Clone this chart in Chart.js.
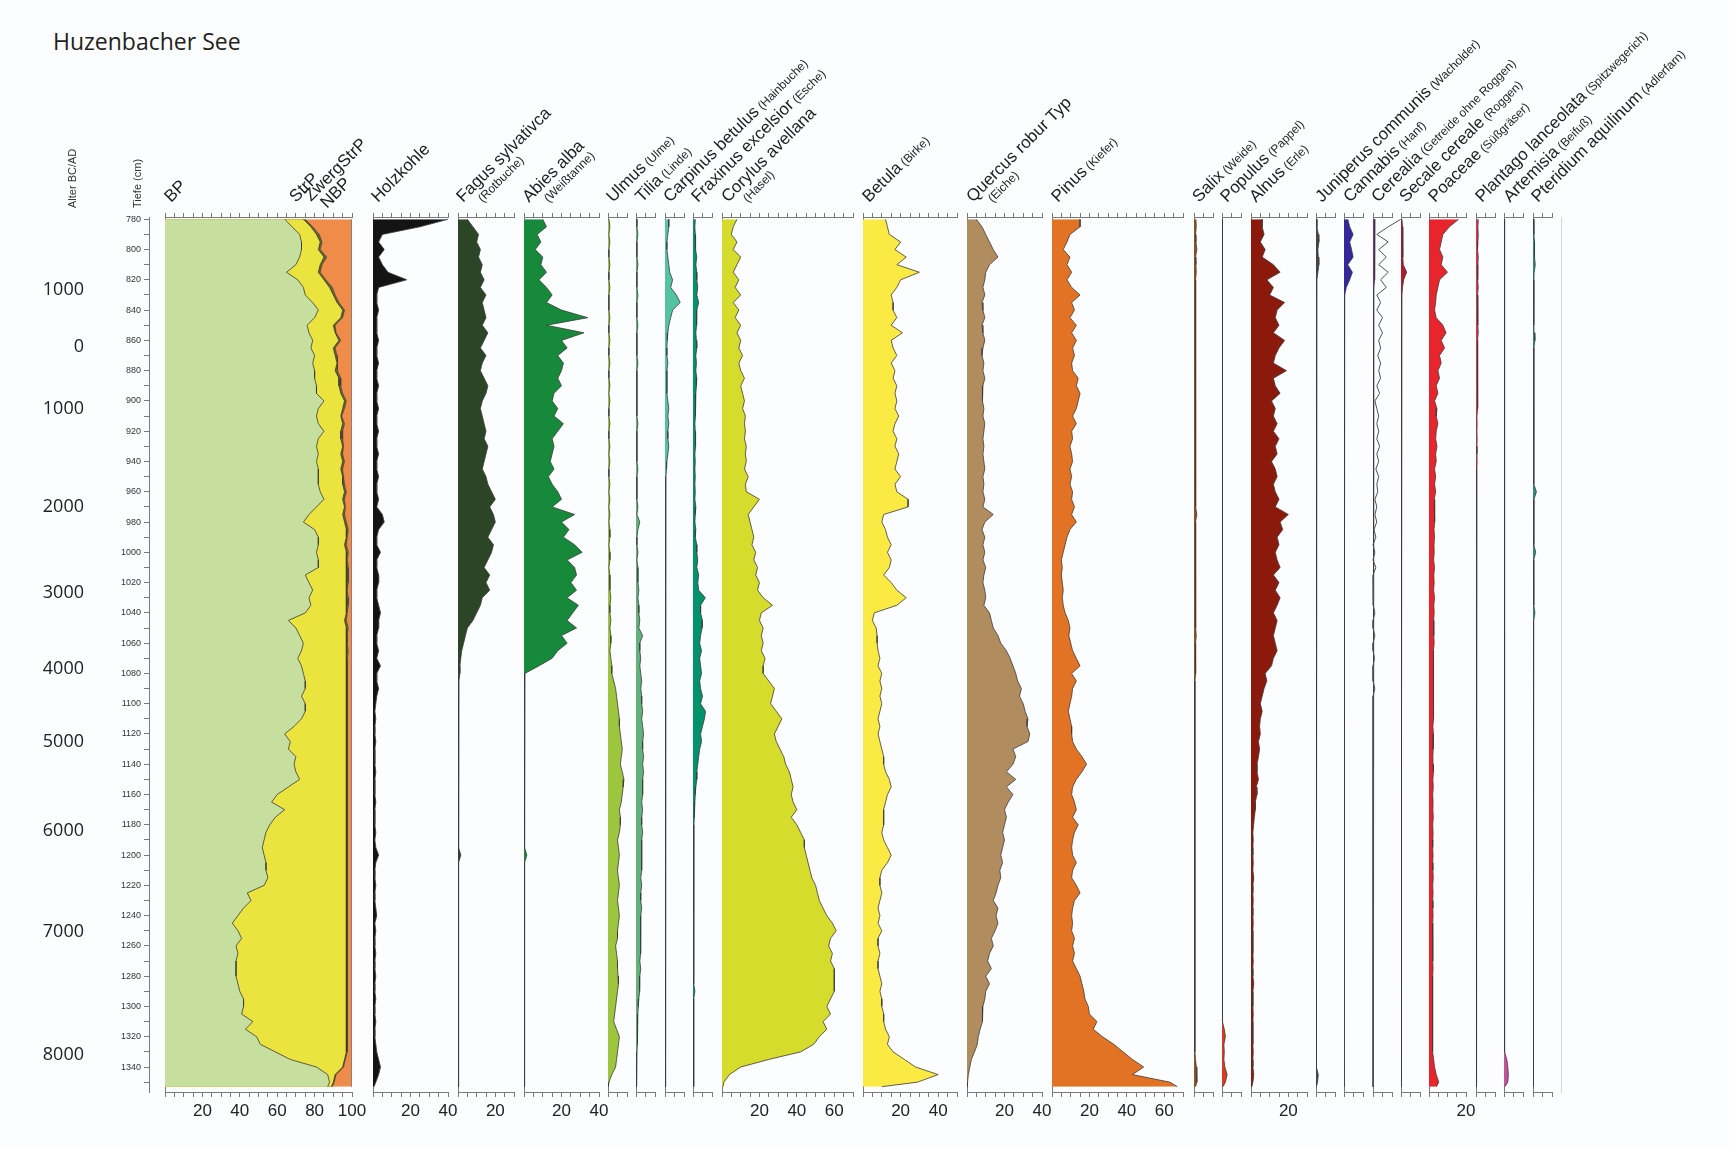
<!DOCTYPE html>
<html><head><meta charset="utf-8">
<script src="https://cdn.jsdelivr.net/npm/chart.js@4.4.1/dist/chart.umd.min.js"></script>
<style>
html,body{margin:0;padding:0;background:#fcfdfe;}
#wrap{position:relative;width:1729px;height:1149px;overflow:hidden;background:#fcfdfe;}
#wrap canvas{position:absolute;top:0;}
.title{position:absolute;left:53px;top:30px;font:23px 'Open Sans',sans-serif;line-height:23px;color:#231f20;white-space:nowrap;}
.hdr{position:absolute;width:0;height:0;transform:rotate(-45deg);transform-origin:0 0;}
.hdr .l1{position:absolute;left:0;bottom:0;white-space:nowrap;font:17px 'Liberation Sans',Arial,sans-serif;line-height:1;color:#1e1e1e;}
.hdr .sub{font-size:12px;}
.hdr .l2{position:absolute;white-space:nowrap;font:12px 'Liberation Sans',Arial,sans-serif;line-height:1;color:#1e1e1e;}
.vt{position:absolute;transform:rotate(-90deg);transform-origin:0 0;white-space:nowrap;font:11px 'Liberation Sans',Arial,sans-serif;line-height:13px;color:#333;}
</style></head>
<body><div id="wrap"><div class="title">Huzenbacher See</div></div>
<script>
// ---------------- DATA ----------------
const depth = [780,785,790,795,800,805,810,815,820,825,830,835,
840,845,850,855,860,865,870,875,880,885,890,895,
900,905,910,915,920,925,930,935,940,945,950,955,
960,965,970,975,980,985,990,995,1000,1005,1010,1015,
1020,1025,1030,1035,1040,1045,1050,1055,1060,1065,1070,1075,
1080,1085,1090,1095,1100,1105,1110,1115,1120,1125,1130,1135,
1140,1145,1150,1155,1160,1165,1170,1175,1180,1185,1190,1195,
1200,1205,1210,1215,1220,1225,1230,1235,1240,1245,1250,1255,
1260,1265,1270,1275,1280,1285,1290,1295,1300,1305,1310,1315,
1320,1325,1330,1335,1340,1345,1350,1353];

const ageLabels = ['1000','0','1000','2000','3000','4000','5000','6000','7000','8000'];
const ageDepth  = [826.7,864,905.5,970,1026.5,1076.7,1125,1184.3,1250.5,1332];

const depthTicks = [780,790,800,810,820,830,840,850,860,870,880,890,900,910,920,930,940,950,960,970,980,990,
1000,1010,1020,1030,1040,1050,1060,1070,1080,1090,1100,1110,1120,1130,1140,1150,1160,1170,1180,1190,1200,
1210,1220,1230,1240,1250,1260,1270,1280,1290,1300,1310,1320,1330,1340,1350];
const depthTickLabels = [780,800,820,840,860,880,900,920,940,960,980,1000,1020,1040,1060,1080,1100,1120,1140,
1160,1180,1200,1220,1240,1260,1280,1300,1320,1340];

const BP = [64,68,72,73,73,72,70,65,71,74,75,79,
82,80,76,77,79,78,80,79,80,80,81,81,
85,82,81,82,85,82,81,82,81,82,82,82,
83,85,81,77,74,80,82,82,81,82,82,75,
77,79,77,78,75,66,70,72,74,73,71,73,
74,75,75,73,75,75,73,69,64,67,66,70,
69,70,72,66,60,57,64,59,56,54,53,52,
53,54,54,55,53,44,46,42,39,36,39,41,
38,39,38,38,38,39,40,42,42,41,47,43,
49,51,59,67,81,87,88,87];
const StrP = [10,10,9,10,9,13,13,17,14,14,15,13,
13,14,14,14,14,12,11,13,11,13,12,13,
11,13,13,13,9,12,14,12,14,12,13,13,
13,10,15,18,22,17,15,14,16,15,15,22,
20,18,20,19,22,30,27,25,23,24,26,24,
23,22,22,24,22,22,24,28,33,30,31,27,
28,27,25,31,37,40,33,38,41,43,44,45,
44,43,43,42,44,53,51,55,58,61,58,56,
59,58,59,59,59,58,57,55,55,56,50,54,
48,46,38,29,14,4,2,2];
const ZwergStrP = [1,1,1.5,1,1,1.5,1,1,1,1.5,1,1,
1,1,1,0.5,1,1,1,0.5,1,1,1,1,
1,1,0.5,1,1,1,0.5,1,1,1,0.5,1,
1,1,0.5,1,1,1,0.5,1,1,0.5,1,1,
1,0.5,1,1,0.5,1,1,0.5,0.5,1,0.5,0.5,
0.5,0.5,0.5,0.5,0.5,0.5,0.5,0.5,0.5,0.5,0.5,0.5,
0.5,0.5,0.5,0.5,0.5,0.5,0.5,0.5,0.5,0.5,0.5,0.5,
0.5,0.5,0.5,0.5,0.5,0.5,0.5,0.5,0.5,0.5,0.5,0.5,
0.5,0.5,0.5,0.5,0.5,0.5,0.5,0.5,0.5,0.5,0.5,0.5,
0.5,0.5,0.5,0.5,0.5,0.5,0.5,0.5];
const NBP = [25,21,17.5,16,17,13.5,16,17,14,10.5,9,7,
4,5,9,8.5,6,9,8,7.5,8,6,6,5,
3,4,5.5,4,5,5,4.5,5,4,5,4.5,4,
3,4,3.5,4,3,2,2.5,3,2,2.5,2,2,
2,2.5,2,2,2.5,3,2,2.5,2.5,2,2.5,2.5,
2.5,2.5,2.5,2.5,2.5,2.5,2.5,2.5,2.5,2.5,2.5,2.5,
2.5,2.5,2.5,2.5,2.5,2.5,2.5,2.5,2.5,2.5,2.5,2.5,
2.5,2.5,2.5,2.5,2.5,2.5,2.5,2.5,2.5,2.5,2.5,2.5,
2.5,2.5,2.5,2.5,2.5,2.5,2.5,2.5,2.5,2.5,2.5,2.5,
2.5,2.5,2.5,3.5,4.5,8.5,9.5,10.5];
const Holzkohle = [40,25,5,3,6,3,5,8,18,3,2,2,
3,2,2,2,3,2,2,3,2,2,3,2,
2,3,2,2,3,2,2,3,2,2,3,2,
2,3,2,5,6,3,2,2,4,2,2,3,
3,2,2,3,4,3,3,2,2,3,2,4,
2,2,3,2,1.5,1,1.5,1,1,1.5,1,1,
1,1.5,1,1,1,1.5,1,1,1,1.5,1,1.5,
3,1.5,1,1,1.5,1,1,1.5,2,1,1.5,1,
1,1.5,1,1,1.5,1,1,1.5,1,1,1.5,1,
1,1.5,2,3,4,3,1.5,0.5];
const Fagus = [5,8,11,10,12,11,13,12,14,12,15,13,
14,15,13,16,14,12,15,13,12,14,16,15,
13,12,13,14,15,14,16,15,14,13,15,16,
18,20,17,19,20,18,16,19,18,16,14,17,
15,17,13,12,10,8,5,4,3,2,1.5,1,
1,0.5,0.5,0.5,0.3,0.3,0.3,0.3,0.3,0.3,0.3,0.3,
0.3,0.3,0.3,0.3,0.3,0.3,0.3,0.3,0.3,0.3,0.3,0.3,
1.5,0.3,0.3,0.3,0.3,0.3,0.3,0.3,0.3,0.3,0.3,0.3,
0.3,0.3,0.3,0.3,0.3,0.3,0.3,0.3,0.3,0.3,0.3,0.3,
0.3,0.3,0.3,0.3,0.3,0.3,0.3,0.2];
const Abies = [10,12,7,9,6,10,9,12,8,12,15,12,
20,34,12,32,20,23,18,21,20,18,20,16,
15,18,16,21,18,15,16,15,14,16,13,15,
18,20,15,27,20,24,21,27,31,23,27,28,
25,28,23,29,26,23,28,20,23,18,15,8,
0.5,0.3,0.3,0.3,0.3,0.3,0.3,0.3,0.3,0.3,0.3,0.3,
0.3,0.3,0.3,0.3,0.3,0.3,0.3,0.3,0.3,0.3,0.3,0.3,
1.5,0.3,0.3,0.3,0.3,0.3,0.3,0.3,0.3,0.3,0.3,0.3,
0.3,0.3,0.3,0.3,0.3,0.3,0.3,0.3,0.3,0.3,0.3,0.3,
0.3,0.3,0.3,0.3,0.3,0.3,0.3,0.2];
const Ulmus = [0.5,1,0.5,1,0.5,0.5,1,0.5,0.5,1,0.5,0.5,
0.5,1,0.5,0.5,1,0.5,0.5,1,0.5,0.5,1,0.5,
1,0.5,0.5,1,0.5,0.5,1,0.5,1,0.5,0.5,1,
0.5,1,0.5,1,0.5,1,1,0.5,1,1,0.5,1,
1,1,1.5,1,1,1.5,1,1.5,1.5,1,1.5,2,
2,3,4,4.5,5,5.5,6,6,6.5,7,7.5,7,
6.5,7.5,8.4,8,7.5,7,6,6.5,6.5,6,5,5.5,
6,5.5,5,5.5,6,5.5,5,5.5,6,5.5,5,5,
4,4.5,5,5,5.3,5.5,5,4.5,4,3.5,3,4.5,
6,5.5,5,4.5,4,2,0.5,0.2];
const Tilia = [0.5,0.5,1,0.5,0.5,0.5,1,0.5,0.5,0.5,1,0.5,
0.5,0.5,1,0.5,0.5,0.5,0.5,1,0.5,0.5,0.5,0.5,
0.5,0.5,0.5,1,0.5,0.5,0.5,0.5,0.5,1,0.5,0.5,
0.5,0.5,1,0.5,2,1,0.5,0.5,1,0.5,1,1,
1,1.5,1,1.5,1.5,2,1.5,3.5,2,2,2.5,2,
2.5,3,2.5,3,3,3.5,3,3.5,4,3.5,3.5,4,
3.5,4,3.5,3.5,3.5,3,3.5,3,3,3.5,3,3,
3,3,3,2.5,3,2.5,2.5,3,2.5,2.5,2.5,2.5,
2.5,2.2,2,2.5,2,1.8,2,1.5,1.2,1,1,0.8,
0.7,0.6,0.5,0.5,0.3,0.3,0.2,0.2];
const Carpinus = [2,2,1.5,1,1,1.5,2,2.5,4,3,6,8,
4,3,2,1.5,1.2,1,1,1.5,1,1,1,1,
1.5,2,1.5,2,1.5,1.5,2,1.5,1,0.8,0.5,0.5,
0.5,0.3,0.3,0.3,0.3,0.3,0.3,0.3,0.3,0.3,0.3,0.3,
0.3,0.3,0.3,0.3,0.3,0.3,0.3,0.3,0.3,0.3,0.3,0.3,
0.3,0.3,0.3,0.3,0.3,0.3,0.3,0.3,0.3,0.3,0.3,0.3,
0.3,0.3,0.3,0.3,0.3,0.3,0.3,0.3,0.3,0.3,0.3,0.3,
0.3,0.3,0.3,0.3,0.3,0.3,0.3,0.3,0.3,0.3,0.3,0.3,
0.3,0.3,0.3,0.3,0.3,0.3,0.3,0.3,0.3,0.3,0.3,0.3,
0.3,0.3,0.3,0.3,0.3,0.3,0.3,0.2];
const Fraxinus = [1.2,1,1.2,1.5,1.2,2,1.5,2,2,2.5,2,3,
2,1.8,2,1.5,1.8,2,1.5,1.8,1.5,2,1.8,1.5,
1.2,1.5,1.2,1,1.2,1.5,1.2,1,1.2,1,1.2,1,
1.2,1,1.5,1.2,1,1.5,1.2,2,2,2.5,2,3,
2.5,3,6.5,4,4,5,4.8,4,3.5,4.5,3.5,4,
4.5,3.5,4,5,4,6.6,6,5,4,4.5,3.5,3,
2.5,2,2,1.5,1.2,1,0.8,0.6,0.5,0.4,0.4,0.4,
0.4,0.4,0.4,0.4,0.4,0.4,0.4,0.4,0.4,0.4,0.4,0.4,
0.4,0.4,0.4,0.4,0.4,0.4,1,0.4,0.4,0.4,0.4,0.4,
0.4,0.4,0.4,0.4,0.4,0.4,0.4,0.2];
const Corylus = [8,6,5,8,6,10,8,6,9,7,10,6,
9,7,10,8,10,9,11,9,10,12,10,11,
12,11,12.5,12,12.5,12,13,12.5,13,12,14,12.5,
13,20,17,14,15,16,17,16,18,17,19,18,
20,19,22,27,21,20,22,21,22,21,23,22,
22,25,28,27,26,29,32,30,28,29,31,33,
34,36,37,38,37,38,40,37,40,42,44,44,
45,46,47,48,50,51,52,54,56,59,61,58,
57,59,58,60,60,60,60,58,56,58,54,56,
52,49,42,25,10,4,1,0.5];
const Betula = [12,13,14,20,17,23,18,30,20,18,15,16,
16,18,15,21,15,16,18,15,17,16,18,17,
18,17,19,17,16,18,17,19,18,17,20,17,
18,24,24,11,10,12,13,15,13,15,14,11,
15,18,23,18,6,5,7,7.5,7.5,8,9,8,
10,9,10,9,10,9,8,9,8,9,10,11,
11,12,14,15,13,12,11,11,11,10,11,13,
15,13,10,9,9,10,9,8,9,8,10,8,
8,9,8,8,9,10,9,10,10,11,11,12,
14,13,16,22,28,40,29,10];
const Quercus = [5,8,10,12,14,16.5,12,10,9.5,8.5,9.5,8,
8.5,9.5,8,8.5,9.5,8.5,8,9,8.5,9.5,8.5,8,
8.5,9,8.5,9.5,9,8.5,9,8.5,9,9.5,8.5,9,
8.5,9.5,8.5,14,9.5,8,9.5,8.5,9.5,8.5,10,9,
8.5,9.5,10,9,12,13,14,16.5,18,21,23,24.5,
26,27,29,28,30,31,32.5,32,33.5,32.5,24.5,26,
24.5,21,26,21,24.5,22,20,21,20,19,20,19,
18,19,17.5,18,16.5,15.5,14,16.5,15.5,16.5,15,13,
14,12,11,13,10,12,10,9.5,8.5,8.5,8,7,
6,5.5,4,2.3,1.5,0.7,0.3,0.2];
const Pinus = [15,15,9.6,8,6,9.6,8,10.5,8,10.5,15,10.5,
12,9.6,13,10.5,13,11,12,10.5,11,14,13,15,
14,13,11,13,10.5,11,9.6,10.5,11,9.6,10.5,9.6,
11,10.5,12,10.5,13,9.6,8,7,6,5,5.5,5,
5.5,6,5.5,6,7,8.7,9.6,9,10,11,13,15,
10.5,13,11,10.5,9.6,8.7,9.6,10.5,10.5,11,13,16,
18.5,16,13,11,10.5,12,13,11,14,12,11,10.5,
11,13,11,10.5,13,15,12,11,10.5,11,10.5,12,
11,12,11,13,15,16,17,17.6,19.4,20,24,22,
27,33,38,43,49,43,63,67];
const Salix = [1,1.2,0.8,1,1.5,0.8,1,1.2,0.8,1,0.8,1,
0.8,1,0.8,1,0.8,0.8,1,0.8,0.8,1,0.8,0.8,
0.8,1,0.8,0.8,1,0.8,0.8,0.8,1,0.8,0.8,0.8,
0.8,1,0.8,1.5,0.8,1,0.8,0.8,1,0.8,0.8,1,
0.8,0.8,1,0.8,0.8,1,0.8,1.2,0.8,0.8,1,0.8,
0.8,0.5,0.5,0.5,0.5,0.5,0.5,0.5,0.5,0.5,0.5,0.5,
0.5,0.5,0.5,0.5,0.5,0.5,0.5,0.5,0.5,0.5,0.5,0.5,
0.5,0.5,0.5,0.5,0.5,0.5,0.5,0.5,0.5,0.5,0.5,0.5,
0.5,0.5,0.5,0.5,0.5,0.5,0.5,0.5,0.5,0.5,0.5,0.5,
0.5,0.5,0.5,0.8,1.2,1.5,1.5,0.8];
const Populus = [0.2,0.2,0.2,0.2,0.2,0.2,0.2,0.2,0.2,0.2,0.2,0.2,
0.2,0.2,0.2,0.2,0.2,0.2,0.2,0.2,0.2,0.2,0.2,0.2,
0.2,0.2,0.2,0.2,0.2,0.2,0.2,0.2,0.2,0.2,0.2,0.2,
0.2,0.2,0.2,0.2,0.2,0.2,0.2,0.2,0.2,0.2,0.2,0.2,
0.2,0.2,0.2,0.2,0.2,0.2,0.2,0.2,0.2,0.2,0.2,0.2,
0.2,0.2,0.2,0.2,0.2,0.2,0.2,0.2,0.2,0.2,0.2,0.2,
0.2,0.2,0.2,0.2,0.2,0.2,0.2,0.2,0.2,0.2,0.2,0.2,
0.2,0.2,0.2,0.2,0.2,0.2,0.2,0.2,0.2,0.2,0.2,0.2,
0.2,0.2,0.2,0.2,0.2,0.2,0.2,0.2,0.2,0.2,0.2,1.2,
1.8,1,1.2,1,1.5,2.7,1.8,0.5];
const Alnus = [6,6,7,5,7.6,6,12,15.6,8.5,12,10,18,
14,13,15,12,18,15,13,12,19,12,13,15.6,
11,13,12,14,12,15,13,14,11,13,14,12,
13,15,13,20,15.6,17,14,15,13,14,15.6,12,
15,13,15.6,14,12,14,13,12,13,14,12,11,
7.6,8.5,7,6,5,6,5,4.6,5,4,4.6,4,
3.2,3.2,4,2.8,3.2,2.3,2.3,1.8,1.4,1,1.2,1,
1,1.2,1,1.5,1,1,1.2,1,1,1.2,1,1,
1,1,1.2,1,1,1.5,1,1,1,1.2,1,1,
1,1,1.2,1,1,1.5,1,0.5];
const Juniperus = [0.5,0.5,1.2,1.5,1,1.2,1.5,1,0.5,0.3,0.2,0.2,
0.2,0.2,0.2,0.2,0.2,0.2,0.2,0.2,0.2,0.2,0.2,0.2,
0.2,0.2,0.2,0.2,0.2,0.2,0.2,0.2,0.2,0.2,0.2,0.2,
0.2,0.2,0.2,0.2,0.2,0.2,0.2,0.2,0.2,0.2,0.2,0.2,
0.2,0.2,0.2,0.2,0.2,0.2,0.2,0.2,0.2,0.2,0.2,0.2,
0.2,0.2,0.2,0.2,0.2,0.2,0.2,0.2,0.2,0.2,0.2,0.2,
0.2,0.2,0.2,0.2,0.2,0.2,0.2,0.2,0.2,0.2,0.2,0.2,
0.2,0.2,0.2,0.2,0.2,0.2,0.2,0.2,0.2,0.2,0.2,0.2,
0.2,0.2,0.2,0.2,0.2,0.2,0.2,0.2,0.2,0.2,0.2,0.2,
0.2,0.2,0.2,0.2,0.5,1.2,0.8,0.2];
const Cannabis = [2,3,4.8,3,4,4.8,2,4.4,3,1.2,0.4,0,
0,0,0,0,0,0,0,0,0,0,0,0,
0,0,0,0,0,0,0,0,0,0,0,0,
0,0,0,0,0,0,0,0,0,0,0,0,
0,0,0,0,0,0,0,0,0,0,0,0,
0,0,0,0,0,0,0,0,0,0,0,0,
0,0,0,0,0,0,0,0,0,0,0,0,
0,0,0,0,0,0,0,0,0,0,0,0,
0,0,0,0,0,0,0,0,0,0,0,0,
0,0,0,0,0,0,0,0];
const Cerealia = [1,0.8,0.8,1,0.8,0.8,1,0.8,0.8,0.5,0.5,0.5,
0.3,0.5,0.3,0.5,0.3,0.5,0.3,0.5,0.3,0.3,0.3,0.3,
0.2,0.2,0.2,0.2,0.2,0.2,0.2,0.2,0.2,0.2,0.2,0.2,
0.2,0.2,0.2,0.2,0.2,0.2,0.2,0.2,0.2,0.2,0.2,0.2,
0.2,0.2,0.2,0.2,0.2,0.2,0.2,0.2,0.2,0.2,0.2,0.2,
0.2,0.2,0.2,0.2,0.2,0.2,0.2,0.2,0.2,0.2,0.2,0.2,
0.2,0.2,0.2,0.2,0.2,0.2,0.2,0.2,0.2,0.2,0.2,0.2,
0.2,0.2,0.2,0.2,0.2,0.2,0.2,0.2,0.2,0.2,0.2,0.2,
0.2,0.2,0.2,0.2,0.2,0.2,0.2,0.2,0.2,0.2,0.2,0.2,
0.2,0.2,0.2,0.2,0.2,0.2,0.2,0.2];
// exaggerated Cerealia curve (grey outline)
const CerealiaExag = [14.6,8,2,8,3,7,3,8,4,7,2,4,
2,5,3,5,3,4,2.5,4,3,4,2,3.5,
1,2,3,2,3,2,3.5,2,3,1.5,3,2,
2.5,1,2,1,2,0.5,1.5,0,1,0,1.5,0,
0.5,0,0,0,1,0,0,1,0,0,0.8,0,
0,0,1,0,0,0,0,0,0,0,0,0,
0,0,0,0,0,0,0,0,0,0,0,0,
0,0,0,0,0,0,0,0,0,0,0,0,
0,0,0,0,0,0,0,0,0,0,0,0,
0,0,0,0,0,0,0,0];
const Secale = [0.5,0.8,1,0.8,1,1,1.2,3,1.4,0.8,0.5,0.5,
0.3,0.3,0.3,0.3,0.3,0.3,0.3,0.3,0.3,0.3,0.3,0.3,
0.3,0.3,0.3,0.3,0.3,0.3,0.3,0.3,0.3,0.3,0.3,0.3,
0.3,0.3,0.3,0.3,0.3,0.3,0.3,0.3,0,0,0,0,
0,0,0,0,0,0,0,0,0,0,0,0,
0,0,0,0,0,0,0,0,0,0,0,0,
0,0,0,0,0,0,0,0,0,0,0,0,
0,0,0,0,0,0,0,0,0,0,0,0,
0,0,0,0,0,0,0,0,0,0,0,0,
0,0,0,0,0,0,0,0];
const Poaceae = [16,11,7.5,6.6,5.7,7.5,6.6,10,5.7,4.8,3.9,3.6,
3,3.9,7.5,9.2,6.6,8.4,5.7,6.6,4.8,5.7,3.9,4.8,
3,4.3,3.9,4.8,3.9,3.6,4.3,3.6,3.9,3,3.6,3,
3.6,2.8,3.2,2.8,3.2,2.7,3,2.7,2.8,2.5,3,2.6,
2.8,2.5,3,2.6,2.8,2.5,2.7,2.5,2.8,2.4,2.6,2.5,
2.5,2.3,2.6,2.4,2.2,2.5,2.3,2.1,2.4,2.2,2.3,2.1,
2.2,2.4,2.1,2.3,2,2.2,2.1,2.3,2,2.2,2.1,2,
2.2,2,2.1,2.3,2,2.2,2,2.1,2.2,2,2.1,2,
2,2.1,2,2.2,2,2.1,1.9,2,2.1,1.9,2,1.8,
1.8,1.9,2,2.5,3,3.9,5.3,4];
const Plantago = [1.2,1,1.2,1,0.8,1.2,1,0.8,1,1.2,0.8,1,
1,0.8,1,1.2,0.8,1,0.8,1,0.8,1,0.8,1,
0.8,0.6,0.5,0.6,0.5,0.6,0.5,0.5,0.6,0.5,0.5,0.5,
0.5,0.5,0.5,0.5,0.5,0.5,0.5,0.5,0.5,0.5,0.5,0.5,
0.5,0.4,0.4,0.4,0.4,0.4,0.4,0.3,0.3,0.3,0.3,0.3,
0.2,0.2,0.2,0.2,0.2,0.2,0.2,0.2,0.2,0.2,0.2,0.2,
0.2,0.2,0.2,0.2,0.2,0.2,0.2,0.2,0.2,0.2,0.2,0.2,
0.2,0.2,0.2,0.2,0.2,0.2,0.2,0.2,0.2,0.2,0.2,0.2,
0.2,0.2,0.2,0.2,0.2,0.2,0.2,0.2,0.2,0.2,0.2,0.2,
0.2,0.2,0.2,0.2,0.2,0.2,0.2,0.2];
const Artemisia = [0.3,0.3,0.3,0.3,0.3,0.3,0.3,0.3,0.3,0.3,0.3,0.3,
0.3,0.3,0.3,0.3,0.3,0.3,0.3,0.3,0.3,0.3,0.3,0.3,
0.3,0.3,0.3,0.3,0.3,0.3,0.3,0.3,0.3,0.3,0.3,0.3,
0.3,0.3,0.3,0.3,0.3,0.3,0.3,0.3,0.3,0.3,0.3,0.3,
0.3,0.3,0.3,0.3,0.3,0.3,0.3,0.3,0.3,0.3,0.3,0.3,
0.3,0.3,0.3,0.3,0.3,0.3,0.3,0.3,0.3,0.3,0.3,0.3,
0.3,0.3,0.3,0.3,0.3,0.3,0.3,0.3,0.3,0.3,0.3,0.3,
0.3,0.3,0.3,0.3,0.3,0.3,0.3,0.3,0.3,0.3,0.3,0.3,
0.3,0.3,0.3,0.3,0.3,0.3,0.3,0.3,0.3,0.3,0.3,0.3,
0.3,0.3,0.5,1.5,2,2.3,2,0.5];
const Pteridium = [0.4,0.5,0.5,0.8,0.6,1,1.2,0.6,0.5,0.4,0.5,0.4,
0.5,0.4,0.5,0.6,1,0.5,0.4,0.5,0.4,0.5,0.4,0.5,
0.4,0.5,0.4,0.4,0.5,0.4,0.4,0.5,0.4,0.4,0.5,0.4,
1.8,0.5,0.4,0.5,0.4,0.5,0.4,0.5,1.4,0.4,0.5,0.4,
0.4,0.5,0.4,0.4,1,0.4,0.3,0.3,0.2,0.2,0.2,0.2,
0.2,0.2,0.2,0.2,0.2,0.2,0.2,0.2,0.2,0.2,0.2,0.2,
0.2,0.2,0.2,0.2,0.2,0.2,0.2,0.2,0.2,0.2,0.2,0.2,
0.2,0.2,0.2,0.2,0.2,0.2,0.2,0.2,0.2,0.2,0.2,0.2,
0.2,0.2,0.2,0.2,0.2,0.2,0.2,0.2,0.2,0.2,0.2,0.2,
0.2,0.2,0.2,0.2,0.2,0.2,0.2,0.2];

// ---------------- LAYOUT / STYLE ----------------
const W = 1729, H = 1149, TOP = 217, BOTTOM = 1092, Y_MIN = 778.5, Y_MAX = 1356.5, PX = 1.8746, PAD = 22;
const AXIS_GREY = '#7a7a7a', OUTLINE = '#3a3a3a';
const TICK_FONT = {family: "'Liberation Sans', Arial, sans-serif", size: 17};
const wrap = document.getElementById('wrap');
Chart.defaults.animation = false;

const pts = arr => depth.map((d, i) => ({x: arr[i], y: d}));
const cum = (...arrs) => depth.map((d, i) => ({x: arrs.reduce((s, a) => s + a[i], 0), y: d}));
const area = (data, color, extra) => Object.assign({data, backgroundColor: color, borderColor: OUTLINE, borderWidth: 0.8, fill: {value: 0}, pointRadius: 0, tension: 0}, extra || {});

const panels = [
  {left: 165.4, max: 100, datasets: [
     area(cum(BP), '#c6de9e'),
     area(cum(BP, StrP), '#ece43e'),
     area(cum(BP, StrP, ZwergStrP), '#66662a', {borderWidth: 0.6}),
     area(cum(BP, StrP, ZwergStrP, NBP), '#f08c4a', {borderColor: AXIS_GREY})]},
  {left: 372.7, max: 40, datasets: [area(pts(Holzkohle), '#141414')]},
  {left: 457.6, max: 30, datasets: [area(pts(Fagus), '#2d4527')]},
  {left: 523.8, max: 40, datasets: [area(pts(Abies), '#168a3a')]},
  {left: 607.6, max: 10, datasets: [area(pts(Ulmus), '#9dc53e')]},
  {left: 636.3, max: 10, datasets: [area(pts(Tilia), '#63b27c')]},
  {left: 664.6, max: 10, datasets: [area(pts(Carpinus), '#55c2a0')]},
  {left: 692.6, max: 10, datasets: [area(pts(Fraxinus), '#00936b')]},
  {left: 722.3, max: 70, datasets: [area(pts(Corylus), '#d5dc2c')]},
  {left: 863.2, max: 50, datasets: [area(pts(Betula), '#faea43')]},
  {left: 967.2, max: 40, datasets: [area(pts(Quercus), '#b08c5f')]},
  {left: 1052.0, max: 70, datasets: [area(pts(Pinus), '#e27324')]},
  {left: 1193.8, max: 10, datasets: [area(pts(Salix), '#8a5524')]},
  {left: 1221.9, max: 10, datasets: [area(pts(Populus), '#d93c25')]},
  {left: 1251.0, max: 30, datasets: [area(pts(Alnus), '#8c1a0c')]},
  {left: 1316.0, max: 10, datasets: [area(pts(Juniperus), '#444444')]},
  {left: 1344.3, max: 10, datasets: [area(pts(Cannabis), '#35279a')]},
  {left: 1372.7, max: 10, extra: 20, datasets: [
     area(pts(CerealiaExag), 'transparent', {fill: false, borderColor: '#505050', borderWidth: 1, clip: false}),
     area(pts(Cerealia), '#7b2f98')]},
  {left: 1400.8, max: 10, datasets: [area(pts(Secale), '#b11a2e')]},
  {left: 1429.3, max: 20, datasets: [area(pts(Poaceae), '#e8252d')]},
  {left: 1476.3, max: 10, datasets: [area(pts(Plantago), '#d4384d')]},
  {left: 1504.3, max: 10, datasets: [area(pts(Artemisia), '#c2549b')]},
  {left: 1532.7, max: 10, datasets: [area(pts(Pteridium), '#2e8d7d')]},
  {left: 1561.0, max: 10, blank: true, datasets: []}
];

function addCanvas(left, width) {
  const cv = document.createElement('canvas');
  cv.width = width; cv.height = H;
  cv.style.left = left + 'px'; cv.style.width = width + 'px'; cv.style.height = H + 'px';
  wrap.appendChild(cv);
  return cv;
}

function makePanel(p) {
  const extra = p.extra || 0;
  const w = Math.round(p.max * PX);
  const cv = addCanvas(Math.round(p.left) - PAD, w + 2 * PAD + extra);
  const rule = p.blank ? 'rgba(0,0,0,0)' : AXIS_GREY;
  new Chart(cv, {
    type: 'line',
    data: {datasets: p.datasets},
    options: {
      responsive: false, animation: false, indexAxis: 'y', events: [],
      layout: {padding: {left: PAD, right: PAD + extra, top: 0, bottom: 0}},
      plugins: {legend: {display: false}, tooltip: {enabled: false}},
      scales: {
        x: {type: 'linear', position: 'bottom', min: 0, max: p.max,
            afterFit: s => { s.height = H - BOTTOM; },
            ticks: {stepSize: 5, autoSkip: false, maxRotation: 0, padding: 4, color: '#222', font: TICK_FONT,
                    callback: v => (!p.blank && v > 0 && v % 20 === 0) ? String(v) : ''},
            grid: {drawOnChartArea: false, tickLength: 5, color: rule, tickColor: rule},
            border: {color: rule, width: 1}},
        x2: {type: 'linear', position: 'top', min: 0, max: p.max,
            afterFit: s => { s.height = TOP; },
            ticks: {stepSize: 5, display: false},
            grid: {drawOnChartArea: false, tickLength: 4, color: rule, tickColor: rule},
            border: {color: rule, width: 1}},
        y: {type: 'linear', position: 'left', reverse: true, min: Y_MIN, max: Y_MAX,
            afterFit: s => { s.width = 0; },
            ticks: {display: false},
            grid: {display: true, drawOnChartArea: false, drawTicks: false},
            border: {color: p.blank ? '#d4d6d8' : AXIS_GREY, width: 1}}
      }
    }
  });
}

// depth axis (Tiefe)
function makeDepthAxis() {
  const cv = addCanvas(0, 151);
  new Chart(cv, {
    type: 'line', data: {datasets: []},
    options: {
      responsive: false, animation: false, events: [],
      layout: {padding: {left: 0, right: 0, top: TOP, bottom: H - BOTTOM}},
      plugins: {legend: {display: false}, tooltip: {enabled: false}},
      scales: {
        x: {type: 'linear', display: false, min: 0, max: 1},
        y: {type: 'linear', position: 'left', reverse: true, min: Y_MIN, max: Y_MAX,
            afterFit: s => { s.width = 149; },
            afterBuildTicks: s => { s.ticks = depthTicks.map(v => ({value: v})); },
            ticks: {autoSkip: false, padding: 3, color: '#333', font: {family: "'Liberation Sans', Arial, sans-serif", size: 9},
                    callback: v => depthTickLabels.includes(v) ? String(v) : ''},
            grid: {drawOnChartArea: false, tickLength: 5, color: AXIS_GREY, tickColor: AXIS_GREY},
            border: {color: AXIS_GREY, width: 1}}
      }
    }
  });
}

// age axis (Alter BC/AD)
function makeAgeAxis() {
  const cv = addCanvas(0, 90);
  new Chart(cv, {
    type: 'line', data: {datasets: []},
    options: {
      responsive: false, animation: false, events: [],
      layout: {padding: {left: 0, right: 0, top: TOP, bottom: H - BOTTOM}},
      plugins: {legend: {display: false}, tooltip: {enabled: false}},
      scales: {
        x: {type: 'linear', display: false, min: 0, max: 1},
        y: {type: 'linear', position: 'left', reverse: true, min: Y_MIN, max: Y_MAX,
            afterFit: s => { s.width = 88; },
            afterBuildTicks: s => { s.ticks = ageDepth.map(v => ({value: v})); },
            ticks: {autoSkip: false, padding: 4, color: '#222', font: {family: "'Open Sans', sans-serif", size: 18},
                    callback: (v, i) => ageLabels[i]},
            grid: {display: false, drawTicks: false},
            border: {display: false}}
      }
    }
  });
}

makeAgeAxis();
makeDepthAxis();
panels.forEach(makePanel);

// ---------------- HEADERS ----------------
const HX = 9;
const headerLayout = [
  {t: 'BP', x: 164, y: 205},
  {t: 'StrP', x: 289, y: 205},
  {t: 'ZwergStrP', x: 304, y: 204},
  {t: 'NBP', x: 320, y: 211},
  {t: 'Holzkohle', x: 371, y: 205},
  {t: 'Fagus sylvativca', l2: '(Rotbuche)', x: 456, y: 205},
  {t: 'Abies alba', l2: '(Weißtanne)', x: 522, y: 205},
  {t: 'Ulmus', s: '(Ulme)', x: 606, y: 205},
  {t: 'Tilia', s: '(Linde)', x: 635, y: 205},
  {t: 'Carpinus betulus', s: '(Hainbuche)', x: 663, y: 205},
  {t: 'Fraxinus excelsior', s: '(Esche)', x: 691, y: 205},
  {t: 'Corylus avellana', l2: '(Hasel)', x: 721, y: 205},
  {t: 'Betula', s: '(Birke)', x: 862, y: 205},
  {t: 'Quercus robur Typ', l2: '(Eiche)', x: 966, y: 205},
  {t: 'Pinus', s: '(Kiefer)', x: 1051, y: 205},
  {t: 'Salix', s: '(Weide)', x: 1192, y: 205},
  {t: 'Populus', s: '(Pappel)', x: 1220, y: 205},
  {t: 'Alnus', s: '(Erle)', x: 1249, y: 205},
  {t: 'Juniperus communis', s: '(Wacholder)', x: 1315, y: 205},
  {t: 'Cannabis', s: '(Hanf)', x: 1343, y: 205},
  {t: 'Cerealia', s: '(Getreide ohne Roggen)', x: 1371, y: 205},
  {t: 'Secale cereale', s: '(Roggen)', x: 1399, y: 205},
  {t: 'Poaceae', s: '(Süßgräser)', x: 1428, y: 205},
  {t: 'Plantago lanceolata', s: '(Spitzwegerich)', x: 1475, y: 205},
  {t: 'Artemisia', s: '(Beifuß)', x: 1503, y: 205},
  {t: 'Pteridium aquilinum', s: '(Adlerfarn)', x: 1531, y: 205}
];
headerLayout.forEach(h => {
  const d = document.createElement('div');
  d.className = 'hdr'; d.style.left = (h.x + HX) + 'px'; d.style.top = h.y + 'px';
  const s1 = document.createElement('span'); s1.className = 'l1'; s1.textContent = h.t;
  if (h.s) { const ss = document.createElement('span'); ss.className = 'sub'; ss.textContent = ' ' + h.s; s1.appendChild(ss); }
  d.appendChild(s1);
  if (h.l2) { const s2 = document.createElement('span'); s2.className = 'l2'; s2.style.left = '14px'; s2.style.top = '1px'; s2.textContent = h.l2; d.appendChild(s2); }
  wrap.appendChild(d);
});
[{t: 'Alter BC/AD', x: 65.5, y: 208}, {t: 'Tiefe (cm)', x: 130.5, y: 208}].forEach(a => {
  const d = document.createElement('div'); d.className = 'vt'; d.style.left = a.x + 'px'; d.style.top = a.y + 'px'; d.textContent = a.t; wrap.appendChild(d);
});
</script></body></html>
